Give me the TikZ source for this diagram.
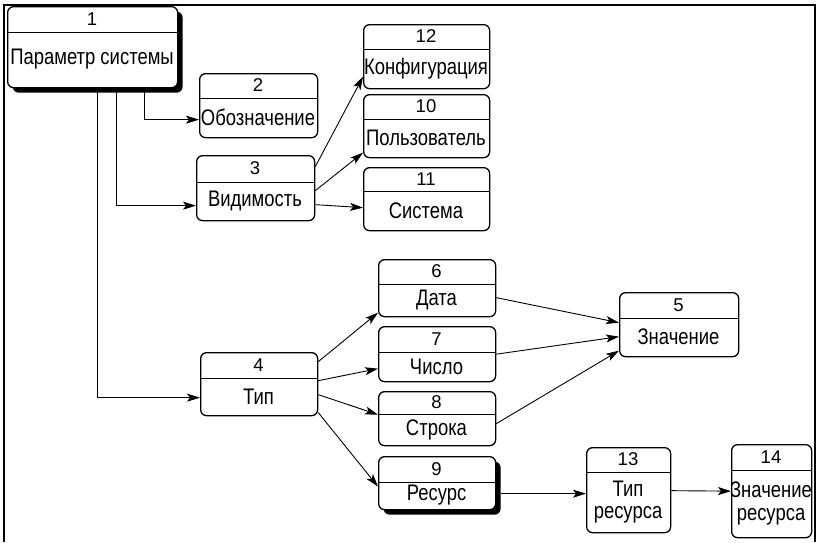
\documentclass[tikz,border=0pt]{standalone}
\usepackage{fontspec}
\setmainfont{Liberation Sans}
\newfontfamily\labfont{Liberation Sans}[FakeStretch=0.82]
\usetikzlibrary{arrows.meta,shadows}

\tikzset{
  ent/.style={draw, line width=1.3pt, rounded corners=6pt, fill=white, inner sep=0pt, anchor=north west},
  shad/.style={drop shadow={shadow xshift=5pt, shadow yshift=-5pt, opacity=1, fill=black}},
  num/.style={inner sep=0pt, font=\fontsize{18.5}{20}\selectfont},
  txt/.style={inner sep=0pt, align=center, font=\labfont\fontsize{22.5}{22.5}\selectfont},
  arr/.style={-{Stealth[length=13pt, width=8pt, inset=3pt]}, line width=0.9pt},
}

% entity box: name, left, top, right, bottom, divider, number, label
\newcommand{\entity}[9][]{%
  \node[ent, #1, minimum width={(#5-#3)*1pt}, minimum height={(#6-#4)*1pt}] (#2) at (#3,#4) {};
  \draw[line width=0.9pt] (#3,#7) -- (#5,#7);
  \node[num] (#2n) at ({(#3+#5)/2},{(#4+#7)/2}) {#8};
  \node[txt] (#2l) at ({(#3+#5)/2},{(#7+#6)/2}) {#9};
}

\begin{document}
\begin{tikzpicture}[x=1pt, y=-1pt]
    \useasboundingbox (0,0) rectangle (818,542);
    \draw[line width=2.5pt] (4,542) -- (4,5) -- (815,5) -- (815,542);

    \entity[shad]{p1}{7}{6}{177}{87}{32}{1}{Параметр системы}
    \entity{p2}{199}{73}{317}{137}{98}{2}{Обозначение}
    \entity{p3}{196}{155}{314}{220}{182}{3}{Видимость}
    \entity{p12}{363}{24}{489}{88}{49}{12}{Конфигурация}
    \entity{p10}{363}{94}{489}{157}{119}{10}{Пользователь}
    \entity{p11}{363}{167}{489}{230}{191}{11}{Система}
    \entity{p4}{200}{352}{317}{415}{378}{4}{Тип}
    \entity{p6}{378}{259}{495}{316}{284}{6}{Дата}
    \entity{p7}{378}{326}{495}{381}{352}{7}{Число}
    \entity{p8}{378}{391}{495}{445}{414}{8}{Строка}
    \entity[shad]{p9}{378}{456}{495}{509}{482}{9}{Ресурс}
    \entity{p5}{619}{292}{738}{356}{318}{5}{Значение}
    \entity{p13}{586}{447}{670}{532}{472}{13}{Тип\\ресурса}
    \entity{p14}{731}{444}{811}{537}{470}{14}{Значение\\ресурса}

    % from the root
    \draw[arr] ([xshift=52pt]p1.south) |- ([yshift=-14pt]p2.west);
    \draw[arr] ([xshift=24pt]p1.south) |- ([yshift=-17.5pt]p3.west);
    \draw[arr] ([xshift=5pt]p1.south) |- ([yshift=-13.5pt]p4.west);

    % visibility
    \draw[arr] ([yshift=21.5pt]p3.east) -- ([yshift=-20pt]p12.west);
    \draw[arr] ([yshift=-2.5pt]p3.east) -- ([yshift=-26.5pt]p10.west);
    \draw[arr] ([yshift=-16.5pt]p3.east) -- ([yshift=-8.5pt]p11.west);

    % type
    \draw[arr] ([yshift=22.5pt]p4.east) -- ([yshift=-24.5pt]p6.west);
    \draw[arr] ([yshift=3.5pt]p4.east) -- ([yshift=-14.5pt]p7.west);
    \draw[arr] ([yshift=-10.5pt]p4.east) -- ([yshift=4pt]p8.west);
    \draw[arr] ([yshift=-28.5pt]p4.east) -- ([yshift=-3.5pt]p9.west);

    % value
    \draw[arr] ([yshift=-9.5pt]p6.east) -- ([yshift=2pt]p5.west);
    \draw[arr] (p7.east) -- ([yshift=-12pt]p5.west);
    \draw[arr] ([yshift=-5pt]p8.east) -- ([yshift=-26pt]p5.west);

    % resource
    \draw[arr] ([xshift=5pt,yshift=-10.5pt]p9.east) -- ([yshift=-3.5pt]p13.west);
    \draw[arr] ([yshift=-0.5pt]p13.east) -- (p14.west);
\end{tikzpicture}
\end{document}
